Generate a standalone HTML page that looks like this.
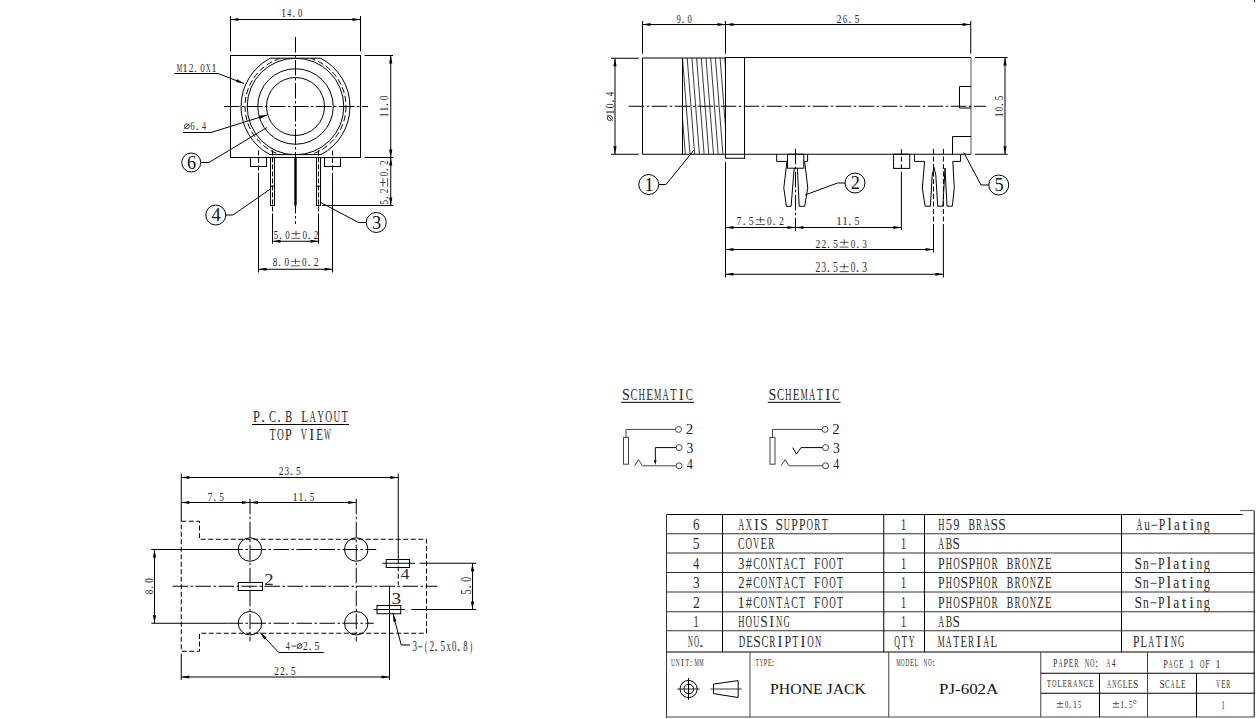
<!DOCTYPE html>
<html><head><meta charset="utf-8"><style>
html,body{margin:0;padding:0;background:#fff;}
body{width:1256px;height:719px;overflow:hidden;}
svg{display:block;}
</style></head><body>
<svg width="1256" height="719" viewBox="0 0 1256 719">
<rect width="1256" height="719" fill="#fff"/>
<line x1="230.5" y1="16" x2="230.5" y2="51.5" stroke="#000" stroke-width="1" />
<line x1="360.5" y1="16" x2="360.5" y2="51.5" stroke="#000" stroke-width="1" />
<line x1="230.5" y1="19.5" x2="360.5" y2="19.5" stroke="#000" stroke-width="1" />
<polygon points="230.5,19.5 238.5,17.9 238.5,21.1" fill="#000"/>
<polygon points="360.5,19.5 352.5,21.1 352.5,17.9" fill="#000"/>
<g transform="translate(281,17)" font-family='"Liberation Serif", serif' font-size="12.21" fill="#2a2a2a"><text transform="translate(2.75,0) scale(0.84,1)" x="-3.22">1</text><text transform="translate(8.25,0) scale(0.64,1)" x="-3.08">4</text><text transform="translate(12.65,0) scale(1,1)" x="-1.53">.</text><text transform="translate(19.25,0) scale(0.7,1)" x="-3.05">0</text></g>
<rect x="230.5" y="55.5" width="130" height="102" fill="none" stroke="#000" stroke-width="1" />
<clipPath id="cp1"><rect x="200" y="58.2" width="200" height="96.4"/></clipPath>
<path d="M 270.3 58.2 L 320.7 58.2 A 54.5 54.5 0 0 1 321.1 154.6 L 269.9 154.6 A 54.5 54.5 0 0 1 270.3 58.2 Z" fill="none" stroke="#000" stroke-width="1"/>
<circle cx="295.5" cy="106.5" r="50.5" fill="none" stroke="#000" stroke-width="1" stroke-dasharray="6 3" clip-path="url(#cp1)"/>
<circle cx="295.5" cy="106.5" r="48.3" fill="none" stroke="#000" stroke-width="1" clip-path="url(#cp1)"/>
<circle cx="295.5" cy="106.5" r="37.75" fill="none" stroke="#000" stroke-width="1" />
<circle cx="295.5" cy="106.5" r="29" fill="none" stroke="#000" stroke-width="1" />
<line x1="295.5" y1="37" x2="295.5" y2="224" stroke="#000" stroke-width="1" stroke-dasharray="15.5 2.5 2.5 2.5" stroke-dashoffset="0"/>
<line x1="224" y1="106.5" x2="368" y2="106.5" stroke="#000" stroke-width="1" stroke-dasharray="15.5 2.5 2.5 2.5" stroke-dashoffset="0"/>
<g transform="translate(176.5,71.75)" font-family='"Liberation Serif", serif' font-size="12.21" fill="#2a2a2a"><text transform="translate(2.89,0) scale(0.49,1)" x="-5.43">M</text><text transform="translate(8.68,0) scale(0.89,1)" x="-3.22">1</text><text transform="translate(14.46,0) scale(0.78,1)" x="-2.98">2</text><text transform="translate(19.09,0) scale(1,1)" x="-1.53">.</text><text transform="translate(26.04,0) scale(0.74,1)" x="-3.05">0</text><text transform="translate(31.82,0) scale(0.53,1)" x="-4.43">X</text><text transform="translate(37.61,0) scale(0.89,1)" x="-3.22">1</text></g>
<line x1="174.5" y1="73.5" x2="218" y2="73.5" stroke="#000" stroke-width="1" />
<line x1="218" y1="73.5" x2="244" y2="83.5" stroke="#000" stroke-width="1" />
<polygon points="244,83.5 235.96,82.12 237.11,79.13" fill="#000"/>
<g transform="translate(184,130)" font-family='"Liberation Serif", serif' font-size="12.6" fill="#2a2a2a"><circle cx="2.88" cy="-3.71" r="2.42" stroke="#2a2a2a" stroke-width="0.9" fill="none"/><path d="M0.22 -1.06L5.53 -6.37" stroke="#2a2a2a" stroke-width="0.9"/><text transform="translate(8.62,0) scale(0.71,1)" x="-3.23">6</text><text transform="translate(13.22,0) scale(1,1)" x="-1.57">.</text><text transform="translate(20.12,0) scale(0.65,1)" x="-3.17">4</text></g>
<line x1="183" y1="132.5" x2="211" y2="132.5" stroke="#000" stroke-width="1" />
<line x1="211" y1="132.5" x2="267" y2="115" stroke="#000" stroke-width="1" />
<polygon points="267,115 259.84,118.91 258.89,115.86" fill="#000"/>
<circle cx="191.25" cy="162.5" r="9.5" fill="none" stroke="#000" stroke-width="1" />
<text x="191.55" y="168.5" font-family='"Liberation Serif", serif' font-size="18.32" fill="#111" text-anchor="middle">6</text>
<line x1="200.75" y1="162.5" x2="209" y2="162.5" stroke="#000" stroke-width="1" />
<line x1="209" y1="162.5" x2="267" y2="127.5" stroke="#000" stroke-width="1" />
<line x1="364.5" y1="55.5" x2="393" y2="55.5" stroke="#000" stroke-width="1" />
<line x1="364.5" y1="157.5" x2="393" y2="157.5" stroke="#000" stroke-width="1" />
<line x1="390.75" y1="55.5" x2="390.75" y2="157.5" stroke="#000" stroke-width="1" />
<polygon points="390.75,55.5 392.35,63.5 389.15,63.5" fill="#000"/>
<polygon points="390.75,157.5 389.15,149.5 392.35,149.5" fill="#000"/>
<g transform="translate(388,117.5) rotate(-90)" font-family='"Liberation Serif", serif' font-size="12.98" fill="#2a2a2a"><text transform="translate(2.81,0) scale(0.81,1)" x="-3.42">1</text><text transform="translate(8.44,0) scale(0.81,1)" x="-3.42">1</text><text transform="translate(12.94,0) scale(1,1)" x="-1.62">.</text><text transform="translate(19.69,0) scale(0.67,1)" x="-3.24">0</text></g>
<line x1="322" y1="205.5" x2="393" y2="205.5" stroke="#000" stroke-width="1" />
<line x1="390.75" y1="157.5" x2="390.75" y2="205.5" stroke="#000" stroke-width="1" />
<polygon points="390.75,157.5 392.35,165.5 389.15,165.5" fill="#000"/>
<polygon points="390.75,205.5 389.15,197.5 392.35,197.5" fill="#000"/>
<g transform="translate(388,205) rotate(-90)" font-family='"Liberation Serif", serif' font-size="12.98" fill="#2a2a2a"><text transform="translate(2.81,0) scale(0.71,1)" x="-3.37">5</text><text transform="translate(7.31,0) scale(1,1)" x="-1.62">.</text><text transform="translate(14.06,0) scale(0.71,1)" x="-3.17">2</text><path d="M18.23 -5.05H26.77M22.5 -8V-2.2M18.23 -0.4H26.77" stroke="#2a2a2a" stroke-width="0.8" fill="none"/><text transform="translate(30.94,0) scale(0.67,1)" x="-3.24">0</text><text transform="translate(35.44,0) scale(1,1)" x="-1.62">.</text><text transform="translate(42.19,0) scale(0.71,1)" x="-3.17">2</text></g>
<rect x="250.5" y="157.5" width="16" height="9" fill="none" stroke="#000" stroke-width="1" />
<rect x="324.5" y="157.5" width="16" height="9" fill="none" stroke="#000" stroke-width="1" />
<line x1="258.5" y1="150.4" x2="258.5" y2="177.5" stroke="#000" stroke-width="1" stroke-dasharray="5 2.5" stroke-dashoffset="0"/>
<line x1="258.5" y1="177.5" x2="258.5" y2="272.5" stroke="#000" stroke-width="1" />
<line x1="332.5" y1="150.4" x2="332.5" y2="177.5" stroke="#000" stroke-width="1" stroke-dasharray="5 2.5" stroke-dashoffset="0"/>
<line x1="332.5" y1="177.5" x2="332.5" y2="272.5" stroke="#000" stroke-width="1" />
<rect x="270.5" y="157.5" width="4" height="48" fill="none" stroke="#000" stroke-width="1" />
<line x1="270.5" y1="186.25" x2="274.5" y2="186.25" stroke="#000" stroke-width="1" />
<rect x="316.5" y="157.5" width="4" height="48" fill="none" stroke="#000" stroke-width="1" />
<line x1="316.5" y1="186.25" x2="320.5" y2="186.25" stroke="#000" stroke-width="1" />
<line x1="272.5" y1="150.4" x2="272.5" y2="222" stroke="#000" stroke-width="1" stroke-dasharray="5 2" stroke-dashoffset="0"/>
<line x1="318.5" y1="150.4" x2="318.5" y2="222" stroke="#000" stroke-width="1" stroke-dasharray="5 2" stroke-dashoffset="0"/>
<rect x="294.3" y="157.5" width="2.4" height="48" fill="#000"/>
<line x1="272.5" y1="217.5" x2="272.5" y2="243.75" stroke="#000" stroke-width="1" />
<line x1="318.5" y1="217.5" x2="318.5" y2="243.75" stroke="#000" stroke-width="1" />
<line x1="272.5" y1="241.25" x2="318.5" y2="241.25" stroke="#000" stroke-width="1" />
<polygon points="272.5,241.25 280.5,239.65 280.5,242.85" fill="#000"/>
<polygon points="318.5,241.25 310.5,242.85 310.5,239.65" fill="#000"/>
<g transform="translate(273,238.75)" font-family='"Liberation Serif", serif' font-size="13.36" fill="#2a2a2a"><text transform="translate(2.88,0) scale(0.71,1)" x="-3.47">5</text><text transform="translate(7.47,0) scale(1,1)" x="-1.67">.</text><text transform="translate(14.38,0) scale(0.67,1)" x="-3.34">0</text><path d="M18.63 -5.18H27.37M23 -8.25V-2.2M18.63 -0.4H27.37" stroke="#2a2a2a" stroke-width="0.8" fill="none"/><text transform="translate(31.62,0) scale(0.67,1)" x="-3.34">0</text><text transform="translate(36.23,0) scale(1,1)" x="-1.67">.</text><text transform="translate(43.12,0) scale(0.71,1)" x="-3.26">2</text></g>
<line x1="258.5" y1="269.25" x2="332.5" y2="269.25" stroke="#000" stroke-width="1" />
<polygon points="258.5,269.25 266.5,267.65 266.5,270.85" fill="#000"/>
<polygon points="332.5,269.25 324.5,270.85 324.5,267.65" fill="#000"/>
<g transform="translate(272,266.25)" font-family='"Liberation Serif", serif' font-size="12.6" fill="#2a2a2a"><text transform="translate(2.94,0) scale(0.73,1)" x="-3.15">8</text><text transform="translate(7.64,0) scale(1,1)" x="-1.57">.</text><text transform="translate(14.69,0) scale(0.73,1)" x="-3.15">0</text><path d="M19.04 -4.93H27.96M23.5 -7.75V-2.2M19.04 -0.4H27.96" stroke="#2a2a2a" stroke-width="0.8" fill="none"/><text transform="translate(32.31,0) scale(0.73,1)" x="-3.15">0</text><text transform="translate(37.01,0) scale(1,1)" x="-1.57">.</text><text transform="translate(44.06,0) scale(0.77,1)" x="-3.08">2</text></g>
<circle cx="215.75" cy="215" r="10" fill="none" stroke="#000" stroke-width="1" />
<text x="216.05" y="221" font-family='"Liberation Serif", serif' font-size="18.32" fill="#111" text-anchor="middle">4</text>
<line x1="225.75" y1="215" x2="233" y2="215" stroke="#000" stroke-width="1" />
<line x1="233" y1="215" x2="270.75" y2="188.75" stroke="#000" stroke-width="1" />
<circle cx="376.25" cy="222.5" r="10" fill="none" stroke="#000" stroke-width="1" />
<text x="376.55" y="228.5" font-family='"Liberation Serif", serif' font-size="18.32" fill="#111" text-anchor="middle">3</text>
<line x1="366.25" y1="222.5" x2="358.5" y2="222.5" stroke="#000" stroke-width="1" />
<line x1="358.5" y1="222.5" x2="320.75" y2="202.5" stroke="#000" stroke-width="1" />
<line x1="642.5" y1="21" x2="642.5" y2="53.75" stroke="#000" stroke-width="1" />
<line x1="725.5" y1="21" x2="725.5" y2="53.75" stroke="#000" stroke-width="1" />
<line x1="970.75" y1="21" x2="970.75" y2="53.75" stroke="#000" stroke-width="1" />
<line x1="642.5" y1="24.5" x2="725.5" y2="24.5" stroke="#000" stroke-width="1" />
<polygon points="642.5,24.5 650.5,22.9 650.5,26.1" fill="#000"/>
<polygon points="725.5,24.5 717.5,26.1 717.5,22.9" fill="#000"/>
<line x1="725.5" y1="24.5" x2="970.75" y2="24.5" stroke="#000" stroke-width="1" />
<polygon points="725.5,24.5 733.5,22.9 733.5,26.1" fill="#000"/>
<polygon points="970.75,24.5 962.75,26.1 962.75,22.9" fill="#000"/>
<g transform="translate(675.75,22.5)" font-family='"Liberation Serif", serif' font-size="12.6" fill="#2a2a2a"><text transform="translate(2.79,0) scale(0.69,1)" x="-3.09">9</text><text transform="translate(7.26,0) scale(1,1)" x="-1.57">.</text><text transform="translate(13.96,0) scale(0.69,1)" x="-3.15">0</text></g>
<g transform="translate(836,22.5)" font-family='"Liberation Serif", serif' font-size="12.98" fill="#2a2a2a"><text transform="translate(3,0) scale(0.76,1)" x="-3.17">2</text><text transform="translate(9,0) scale(0.71,1)" x="-3.33">6</text><text transform="translate(13.8,0) scale(1,1)" x="-1.62">.</text><text transform="translate(21,0) scale(0.76,1)" x="-3.37">5</text></g>
<line x1="642.5" y1="58" x2="642.5" y2="154.25" stroke="#000" stroke-width="1" />
<line x1="642.5" y1="58" x2="725.5" y2="58" stroke="#000" stroke-width="1" />
<line x1="725.5" y1="57.5" x2="971" y2="57.5" stroke="#000" stroke-width="1" />
<line x1="642.5" y1="154.25" x2="971" y2="154.25" stroke="#000" stroke-width="1" />
<line x1="682.5" y1="58" x2="682.5" y2="154.25" stroke="#000" stroke-width="1" />
<clipPath id="cpth"><rect x="682.5" y="58" width="43" height="96.25"/></clipPath><g clip-path="url(#cpth)">
<line x1="677.8" y1="58" x2="685.3" y2="154.25" stroke="#222" stroke-width="0.9" />
<line x1="682.5" y1="58" x2="690" y2="154.25" stroke="#222" stroke-width="0.9" />
<line x1="687.2" y1="58" x2="694.7" y2="154.25" stroke="#222" stroke-width="0.9" />
<line x1="691.9" y1="58" x2="699.4" y2="154.25" stroke="#222" stroke-width="0.9" />
<line x1="696.6" y1="58" x2="704.1" y2="154.25" stroke="#222" stroke-width="0.9" />
<line x1="701.3" y1="58" x2="708.8" y2="154.25" stroke="#222" stroke-width="0.9" />
<line x1="706" y1="58" x2="713.5" y2="154.25" stroke="#222" stroke-width="0.9" />
<line x1="710.7" y1="58" x2="718.2" y2="154.25" stroke="#222" stroke-width="0.9" />
<line x1="715.4" y1="58" x2="722.9" y2="154.25" stroke="#222" stroke-width="0.9" />
<line x1="720.1" y1="58" x2="727.6" y2="154.25" stroke="#222" stroke-width="0.9" />
<line x1="724.8" y1="58" x2="732.3" y2="154.25" stroke="#222" stroke-width="0.9" />
</g>
<rect x="725.5" y="57.5" width="19" height="100.75" fill="none" stroke="#000" stroke-width="1" />
<line x1="971" y1="57.5" x2="971" y2="154.25" stroke="#555" stroke-width="1" />
<polyline points="971,86.5 959.5,86.5 959.5,108 971,108" fill="none" stroke="#000" stroke-width="1" />
<polyline points="971,136.5 952.5,136.5 952.5,154.25" fill="none" stroke="#000" stroke-width="1" />
<line x1="628.75" y1="106.25" x2="986.25" y2="106.25" stroke="#000" stroke-width="1" stroke-dasharray="15.5 2.5 2.5 2.5" stroke-dashoffset="0"/>
<line x1="611" y1="58.25" x2="638.75" y2="58.25" stroke="#000" stroke-width="1" />
<line x1="611" y1="154.25" x2="638.75" y2="154.25" stroke="#000" stroke-width="1" />
<line x1="615" y1="58.25" x2="615" y2="154.25" stroke="#000" stroke-width="1" />
<polygon points="615,58.25 616.6,66.25 613.4,66.25" fill="#000"/>
<polygon points="615,154.25 613.4,146.25 616.6,146.25" fill="#000"/>
<g transform="translate(613.75,121) rotate(-90)" font-family='"Liberation Serif", serif' font-size="13.36" fill="#2a2a2a"><circle cx="3" cy="-3.94" r="2.52" stroke="#2a2a2a" stroke-width="0.9" fill="none"/><path d="M0.23 -1.17L5.77 -6.71" stroke="#2a2a2a" stroke-width="0.9"/><text transform="translate(9,0) scale(0.84,1)" x="-3.53">1</text><text transform="translate(15,0) scale(0.7,1)" x="-3.34">0</text><text transform="translate(19.8,0) scale(1,1)" x="-1.67">.</text><text transform="translate(27,0) scale(0.64,1)" x="-3.37">4</text></g>
<line x1="975" y1="57.5" x2="1007.5" y2="57.5" stroke="#000" stroke-width="1" />
<line x1="975" y1="154.25" x2="1007.5" y2="154.25" stroke="#000" stroke-width="1" />
<line x1="1005" y1="57.5" x2="1005" y2="154.25" stroke="#000" stroke-width="1" />
<polygon points="1005,57.5 1006.6,65.5 1003.4,65.5" fill="#000"/>
<polygon points="1005,154.25 1003.4,146.25 1006.6,146.25" fill="#000"/>
<g transform="translate(1002.5,117.5) rotate(-90)" font-family='"Liberation Serif", serif' font-size="13.36" fill="#2a2a2a"><text transform="translate(2.81,0) scale(0.79,1)" x="-3.53">1</text><text transform="translate(8.44,0) scale(0.66,1)" x="-3.34">0</text><text transform="translate(12.94,0) scale(1,1)" x="-1.67">.</text><text transform="translate(19.69,0) scale(0.69,1)" x="-3.47">5</text></g>
<line x1="725.5" y1="162" x2="725.5" y2="277.5" stroke="#000" stroke-width="1" />
<polyline points="776.7,154.25 776.7,161.4 787.4,161.4" fill="none" stroke="#000" stroke-width="1" />
<polyline points="807.6,154.25 807.6,161.4 803.8,161.4" fill="none" stroke="#000" stroke-width="1" />
<rect x="787.5" y="154.25" width="16.3" height="13.95" fill="none" stroke="#000" stroke-width="1" />
<polyline points="786.9,161.9 783.8,188 786.4,206.3 791.1,206.3 794.2,168.2" fill="none" stroke="#000" stroke-width="1" />
<polyline points="797.4,168.2 799.2,206.3 804.7,206.3 807.8,188 804.7,161.9" fill="none" stroke="#000" stroke-width="1" />
<line x1="795.5" y1="148.75" x2="795.5" y2="231.25" stroke="#000" stroke-width="1" stroke-dasharray="15.5 2.5 2.5 2.5" stroke-dashoffset="0"/>
<rect x="893.6" y="154.25" width="16.1" height="14.15" fill="none" stroke="#000" stroke-width="1" />
<line x1="901.4" y1="149.2" x2="901.4" y2="175" stroke="#000" stroke-width="1" stroke-dasharray="5 2.5" stroke-dashoffset="0"/>
<line x1="901.4" y1="175" x2="901.4" y2="230" stroke="#000" stroke-width="1" />
<polyline points="914.5,154.25 914.5,161.4 924.6,161.4 922.3,188 925.1,206.2 930.4,206.2 932.2,175 934,167.3 935.8,175 937.7,206.2 942.9,206.2 945,168 947,206.2 952.3,206.2 954.3,188 952.8,161.4 960.6,161.4 960.6,154.25" fill="none" stroke="#000" stroke-width="1" />
<line x1="933.5" y1="149" x2="933.5" y2="228" stroke="#000" stroke-width="1" stroke-dasharray="5 2.5" stroke-dashoffset="0"/>
<line x1="933.5" y1="228" x2="933.5" y2="252.5" stroke="#000" stroke-width="1" />
<line x1="943.4" y1="149" x2="943.4" y2="228" stroke="#000" stroke-width="1" stroke-dasharray="5 2.5" stroke-dashoffset="0"/>
<line x1="943.4" y1="228" x2="943.4" y2="277.5" stroke="#000" stroke-width="1" />
<line x1="725.5" y1="227.5" x2="795.5" y2="227.5" stroke="#000" stroke-width="1" />
<polygon points="725.5,227.5 733.5,225.9 733.5,229.1" fill="#000"/>
<polygon points="795.5,227.5 787.5,229.1 787.5,225.9" fill="#000"/>
<line x1="795.5" y1="227.5" x2="901.4" y2="227.5" stroke="#000" stroke-width="1" />
<polygon points="795.5,227.5 803.5,225.9 803.5,229.1" fill="#000"/>
<polygon points="901.4,227.5 893.4,229.1 893.4,225.9" fill="#000"/>
<g transform="translate(736.25,225)" font-family='"Liberation Serif", serif' font-size="13.36" fill="#2a2a2a"><text transform="translate(3.02,0) scale(0.74,1)" x="-3.59">7</text><text transform="translate(7.84,0) scale(1,1)" x="-1.67">.</text><text transform="translate(15.08,0) scale(0.74,1)" x="-3.47">5</text><path d="M19.54 -5.18H28.71M24.12 -8.25V-2.2M19.54 -0.4H28.71" stroke="#2a2a2a" stroke-width="0.8" fill="none"/><text transform="translate(33.17,0) scale(0.7,1)" x="-3.34">0</text><text transform="translate(38,0) scale(1,1)" x="-1.67">.</text><text transform="translate(45.23,0) scale(0.74,1)" x="-3.26">2</text></g>
<g transform="translate(836.25,225)" font-family='"Liberation Serif", serif' font-size="13.36" fill="#2a2a2a"><text transform="translate(2.97,0) scale(0.83,1)" x="-3.53">1</text><text transform="translate(8.91,0) scale(0.83,1)" x="-3.53">1</text><text transform="translate(13.66,0) scale(1,1)" x="-1.67">.</text><text transform="translate(20.78,0) scale(0.73,1)" x="-3.47">5</text></g>
<line x1="725.5" y1="249.5" x2="933.5" y2="249.5" stroke="#000" stroke-width="1" />
<polygon points="725.5,249.5 733.5,247.9 733.5,251.1" fill="#000"/>
<polygon points="933.5,249.5 925.5,251.1 925.5,247.9" fill="#000"/>
<g transform="translate(815,247.5)" font-family='"Liberation Serif", serif' font-size="13.36" fill="#2a2a2a"><text transform="translate(2.92,0) scale(0.72,1)" x="-3.26">2</text><text transform="translate(8.75,0) scale(0.72,1)" x="-3.26">2</text><text transform="translate(13.42,0) scale(1,1)" x="-1.67">.</text><text transform="translate(20.42,0) scale(0.72,1)" x="-3.47">5</text><path d="M24.73 -5.18H33.6M29.17 -8.25V-2.2M24.73 -0.4H33.6" stroke="#2a2a2a" stroke-width="0.8" fill="none"/><text transform="translate(37.92,0) scale(0.68,1)" x="-3.34">0</text><text transform="translate(42.58,0) scale(1,1)" x="-1.67">.</text><text transform="translate(49.58,0) scale(0.7,1)" x="-3.4">3</text></g>
<line x1="725.5" y1="274.25" x2="943.4" y2="274.25" stroke="#000" stroke-width="1" />
<polygon points="725.5,274.25 733.5,272.65 733.5,275.85" fill="#000"/>
<polygon points="943.4,274.25 935.4,275.85 935.4,272.65" fill="#000"/>
<g transform="translate(815,272)" font-family='"Liberation Serif", serif' font-size="13.74" fill="#2a2a2a"><text transform="translate(2.92,0) scale(0.7,1)" x="-3.36">2</text><text transform="translate(8.75,0) scale(0.68,1)" x="-3.5">3</text><text transform="translate(13.42,0) scale(1,1)" x="-1.72">.</text><text transform="translate(20.42,0) scale(0.7,1)" x="-3.57">5</text><path d="M24.73 -5.3H33.6M29.17 -8.5V-2.2M24.73 -0.4H33.6" stroke="#2a2a2a" stroke-width="0.8" fill="none"/><text transform="translate(37.92,0) scale(0.66,1)" x="-3.44">0</text><text transform="translate(42.58,0) scale(1,1)" x="-1.72">.</text><text transform="translate(49.58,0) scale(0.68,1)" x="-3.5">3</text></g>
<circle cx="648.75" cy="184.5" r="10" fill="none" stroke="#000" stroke-width="1" />
<text x="649.05" y="190.5" font-family='"Liberation Serif", serif' font-size="18.32" fill="#111" text-anchor="middle">1</text>
<line x1="658.75" y1="184.5" x2="666" y2="184.5" stroke="#000" stroke-width="1" />
<line x1="666" y1="184.5" x2="694" y2="150" stroke="#000" stroke-width="1" />
<circle cx="855" cy="183" r="10" fill="none" stroke="#000" stroke-width="1" />
<text x="855.3" y="189" font-family='"Liberation Serif", serif' font-size="18.32" fill="#111" text-anchor="middle">2</text>
<line x1="845" y1="183" x2="837.5" y2="183" stroke="#000" stroke-width="1" />
<line x1="837.5" y1="183" x2="805" y2="195" stroke="#000" stroke-width="1" />
<circle cx="998.75" cy="185" r="10" fill="none" stroke="#000" stroke-width="1" />
<text x="999.05" y="191" font-family='"Liberation Serif", serif' font-size="18.32" fill="#111" text-anchor="middle">5</text>
<line x1="988.75" y1="185" x2="981" y2="185" stroke="#000" stroke-width="1" />
<line x1="981" y1="185" x2="963.75" y2="152.5" stroke="#000" stroke-width="1" />
<g transform="translate(252.5,422)" font-family='"Liberation Serif", serif' font-size="16.41" fill="#2a2a2a"><text transform="translate(4.01,0) scale(0.76,1)" x="-4.47">P</text><text transform="translate(10.43,0) scale(1,1)" x="-2.05">.</text><text transform="translate(20.05,0) scale(0.65,1)" x="-5.36">C</text><text transform="translate(26.47,0) scale(1,1)" x="-2.05">.</text><text transform="translate(36.09,0) scale(0.63,1)" x="-5.31">B</text><text transform="translate(52.14,0) scale(0.71,1)" x="-4.76">L</text><text transform="translate(60.16,0) scale(0.53,1)" x="-5.95">A</text><text transform="translate(68.18,0) scale(0.54,1)" x="-5.81">Y</text><text transform="translate(76.2,0) scale(0.58,1)" x="-5.93">O</text><text transform="translate(84.22,0) scale(0.55,1)" x="-5.93">U</text><text transform="translate(92.24,0) scale(0.64,1)" x="-5.02">T</text></g>
<line x1="252" y1="424.5" x2="349" y2="424.5" stroke="#000" stroke-width="1" />
<g transform="translate(268.75,440)" font-family='"Liberation Serif", serif' font-size="16.41" fill="#2a2a2a"><text transform="translate(3.91,0) scale(0.63,1)" x="-5.02">T</text><text transform="translate(11.72,0) scale(0.57,1)" x="-5.93">O</text><text transform="translate(19.53,0) scale(0.74,1)" x="-4.47">P</text><text transform="translate(35.16,0) scale(0.52,1)" x="-5.93">V</text><text transform="translate(42.97,0) scale(0.91,1)" x="-2.74">I</text><text transform="translate(50.78,0) scale(0.68,1)" x="-4.84">E</text><text transform="translate(58.59,0) scale(0.44,1)" x="-7.74">W</text></g>
<line x1="181.25" y1="473.75" x2="181.25" y2="521.25" stroke="#000" stroke-width="1" />
<line x1="398.25" y1="473.75" x2="398.25" y2="558.75" stroke="#000" stroke-width="1" />
<line x1="398.25" y1="558.75" x2="398.25" y2="585" stroke="#000" stroke-width="1" stroke-dasharray="5 2.5" stroke-dashoffset="0"/>
<line x1="181.25" y1="477.5" x2="398.25" y2="477.5" stroke="#000" stroke-width="1" />
<polygon points="181.25,477.5 189.25,475.9 189.25,479.1" fill="#000"/>
<polygon points="398.25,477.5 390.25,479.1 390.25,475.9" fill="#000"/>
<g transform="translate(278.25,475)" font-family='"Liberation Serif", serif' font-size="13.36" fill="#2a2a2a"><text transform="translate(2.88,0) scale(0.71,1)" x="-3.26">2</text><text transform="translate(8.62,0) scale(0.69,1)" x="-3.4">3</text><text transform="translate(13.22,0) scale(1,1)" x="-1.67">.</text><text transform="translate(20.12,0) scale(0.71,1)" x="-3.47">5</text></g>
<line x1="181.25" y1="502.5" x2="250" y2="502.5" stroke="#000" stroke-width="1" />
<polygon points="181.25,502.5 189.25,500.9 189.25,504.1" fill="#000"/>
<polygon points="250,502.5 242,504.1 242,500.9" fill="#000"/>
<line x1="250" y1="502.5" x2="356.25" y2="502.5" stroke="#000" stroke-width="1" />
<polygon points="250,502.5 258,500.9 258,504.1" fill="#000"/>
<polygon points="356.25,502.5 348.25,504.1 348.25,500.9" fill="#000"/>
<g transform="translate(207.5,500.5)" font-family='"Liberation Serif", serif' font-size="12.21" fill="#2a2a2a"><text transform="translate(2.83,0) scale(0.76,1)" x="-3.28">7</text><text transform="translate(7.37,0) scale(1,1)" x="-1.53">.</text><text transform="translate(14.17,0) scale(0.76,1)" x="-3.17">5</text></g>
<g transform="translate(292.5,500.5)" font-family='"Liberation Serif", serif' font-size="12.21" fill="#2a2a2a"><text transform="translate(2.81,0) scale(0.86,1)" x="-3.22">1</text><text transform="translate(8.44,0) scale(0.86,1)" x="-3.22">1</text><text transform="translate(12.94,0) scale(1,1)" x="-1.53">.</text><text transform="translate(19.69,0) scale(0.75,1)" x="-3.17">5</text></g>
<line x1="250" y1="498.75" x2="250" y2="641.25" stroke="#000" stroke-width="1" stroke-dasharray="15.5 2.5 2.5 2.5" stroke-dashoffset="0"/>
<line x1="356.25" y1="498.75" x2="356.25" y2="641.25" stroke="#000" stroke-width="1" stroke-dasharray="15.5 2.5 2.5 2.5" stroke-dashoffset="0"/>
<polyline points="181.25,521.25 199.5,521.25 199.5,539.25 426.5,539.25 426.5,633.25 199.5,633.25 199.5,651.25 181.25,651.25 181.25,521.25" fill="none" stroke="#000" stroke-width="1" stroke-dasharray="5 2.5"/>
<circle cx="250" cy="549.5" r="11.75" fill="none" stroke="#000" stroke-width="1" />
<circle cx="356.25" cy="549.5" r="11.75" fill="none" stroke="#000" stroke-width="1" />
<circle cx="250" cy="623.25" r="11.75" fill="none" stroke="#000" stroke-width="1" />
<circle cx="356.25" cy="623.25" r="11.75" fill="none" stroke="#000" stroke-width="1" />
<line x1="151.25" y1="549.5" x2="227.5" y2="549.5" stroke="#000" stroke-width="1" />
<line x1="227.5" y1="549.5" x2="376.25" y2="549.5" stroke="#000" stroke-width="1" stroke-dasharray="15.5 2.5 2.5 2.5" stroke-dashoffset="0"/>
<line x1="151.25" y1="623.25" x2="227.5" y2="623.25" stroke="#000" stroke-width="1" />
<line x1="227.5" y1="623.25" x2="373.75" y2="623.25" stroke="#000" stroke-width="1" stroke-dasharray="15.5 2.5 2.5 2.5" stroke-dashoffset="0"/>
<line x1="172.5" y1="586.25" x2="437.5" y2="586.25" stroke="#000" stroke-width="1" stroke-dasharray="15.5 2.5 2.5 2.5" stroke-dashoffset="0"/>
<line x1="154.5" y1="549.5" x2="154.5" y2="623.25" stroke="#000" stroke-width="1" />
<polygon points="154.5,549.5 156.1,557.5 152.9,557.5" fill="#000"/>
<polygon points="154.5,623.25 152.9,615.25 156.1,615.25" fill="#000"/>
<g transform="translate(152.5,595) rotate(-90)" font-family='"Liberation Serif", serif' font-size="11.45" fill="#2a2a2a"><text transform="translate(2.92,0) scale(0.79,1)" x="-2.86">8</text><text transform="translate(7.58,0) scale(1,1)" x="-1.43">.</text><text transform="translate(14.58,0) scale(0.79,1)" x="-2.86">0</text></g>
<rect x="238.25" y="582.5" width="24.25" height="8" fill="none" stroke="#000" stroke-width="1" />
<g transform="translate(265,584.5)" font-family='"Liberation Serif", serif' font-size="16.41" fill="#2a2a2a"><text transform="translate(3.75,0) scale(1.14,1)" x="-4.01">2</text></g>
<rect x="386.25" y="559.5" width="23.25" height="8" fill="none" stroke="#000" stroke-width="1" />
<g transform="translate(401,578.75)" font-family='"Liberation Serif", serif' font-size="15.27" fill="#2a2a2a"><text transform="translate(4,0) scale(1.13,1)" x="-3.85">4</text></g>
<rect x="377" y="605.5" width="23.75" height="8.25" fill="none" stroke="#000" stroke-width="1" />
<g transform="translate(392.5,603.75)" font-family='"Liberation Serif", serif' font-size="17.18" fill="#2a2a2a"><text transform="translate(4,0) scale(1.13,1)" x="-4.37">3</text></g>
<line x1="389.5" y1="586.25" x2="389.5" y2="680" stroke="#000" stroke-width="1" />
<line x1="382.5" y1="563.25" x2="415" y2="563.25" stroke="#000" stroke-width="1" />
<line x1="419.5" y1="563.25" x2="476.25" y2="563.25" stroke="#000" stroke-width="1" />
<line x1="373.75" y1="609.5" x2="405" y2="609.5" stroke="#000" stroke-width="1" />
<line x1="411.25" y1="609.5" x2="476.25" y2="609.5" stroke="#000" stroke-width="1" />
<line x1="472.5" y1="563.25" x2="472.5" y2="609.5" stroke="#000" stroke-width="1" />
<polygon points="472.5,563.25 474.1,571.25 470.9,571.25" fill="#000"/>
<polygon points="472.5,609.5 470.9,601.5 474.1,601.5" fill="#000"/>
<g transform="translate(471.25,595) rotate(-90)" font-family='"Liberation Serif", serif' font-size="15.27" fill="#2a2a2a"><text transform="translate(3.12,0) scale(0.67,1)" x="-3.96">5</text><text transform="translate(8.12,0) scale(1,1)" x="-1.91">.</text><text transform="translate(15.62,0) scale(0.64,1)" x="-3.82">0</text></g>
<line x1="181.25" y1="653.75" x2="181.25" y2="680" stroke="#000" stroke-width="1" />
<line x1="181.25" y1="677" x2="389.5" y2="677" stroke="#000" stroke-width="1" />
<polygon points="181.25,677 189.25,675.4 189.25,678.6" fill="#000"/>
<polygon points="389.5,677 381.5,678.6 381.5,675.4" fill="#000"/>
<g transform="translate(273.75,675)" font-family='"Liberation Serif", serif' font-size="13.36" fill="#2a2a2a"><text transform="translate(2.81,0) scale(0.69,1)" x="-3.26">2</text><text transform="translate(8.44,0) scale(0.69,1)" x="-3.26">2</text><text transform="translate(12.94,0) scale(1,1)" x="-1.67">.</text><text transform="translate(19.69,0) scale(0.69,1)" x="-3.47">5</text></g>
<g transform="translate(285,650)" font-family='"Liberation Serif", serif' font-size="13.36" fill="#2a2a2a"><text transform="translate(2.92,0) scale(0.62,1)" x="-3.37">4</text><path d="M6.42 -3.94H11.08" stroke="#2a2a2a" stroke-width="0.9"/><circle cx="14.58" cy="-3.94" r="2.45" stroke="#2a2a2a" stroke-width="0.9" fill="none"/><path d="M11.89 -1.24L17.28 -6.63" stroke="#2a2a2a" stroke-width="0.9"/><text transform="translate(20.42,0) scale(0.72,1)" x="-3.26">2</text><text transform="translate(25.08,0) scale(1,1)" x="-1.67">.</text><text transform="translate(32.08,0) scale(0.72,1)" x="-3.47">5</text></g>
<line x1="278.75" y1="652.5" x2="323.75" y2="652.5" stroke="#000" stroke-width="1" />
<line x1="278.75" y1="652.5" x2="260" y2="632.5" stroke="#000" stroke-width="1" />
<polygon points="260,632.5 266.64,637.24 264.3,639.43" fill="#000"/>
<g transform="translate(412,651.25)" font-family='"Liberation Serif", serif' font-size="15.27" fill="#2a2a2a"><text transform="translate(2.81,0) scale(0.59,1)" x="-3.88">3</text><path d="M6.17 -4.5H10.67" stroke="#2a2a2a" stroke-width="0.9"/><text transform="translate(14.03,0) scale(0.5,1)" x="-2.63">(</text><text transform="translate(19.65,0) scale(0.61,1)" x="-3.73">2</text><text transform="translate(24.14,0) scale(1,1)" x="-1.91">.</text><text transform="translate(30.88,0) scale(0.6,1)" x="-3.96">5</text><text transform="translate(36.49,0) scale(0.54,1)" x="-3.79">x</text><text transform="translate(42.1,0) scale(0.57,1)" x="-3.82">0</text><text transform="translate(46.59,0) scale(1,1)" x="-1.91">.</text><text transform="translate(53.33,0) scale(0.57,1)" x="-3.82">8</text><text transform="translate(58.94,0) scale(0.5,1)" x="-2.45">)</text></g>
<line x1="410" y1="645" x2="401.25" y2="645" stroke="#000" stroke-width="1" />
<line x1="401.25" y1="645" x2="393" y2="613.75" stroke="#000" stroke-width="1" />
<polygon points="393,613.75 396.59,621.08 393.5,621.89" fill="#000"/>
<g transform="translate(622,400.3)" font-family='"Liberation Serif", serif' font-size="17.4" fill="#2a2a2a"><text transform="translate(3.96,0) scale(0.81,1)" x="-4.88">S</text><text transform="translate(11.87,0) scale(0.61,1)" x="-5.68">C</text><text transform="translate(19.78,0) scale(0.52,1)" x="-6.28">H</text><text transform="translate(27.69,0) scale(0.65,1)" x="-5.13">E</text><text transform="translate(35.6,0) scale(0.47,1)" x="-7.73">M</text><text transform="translate(43.51,0) scale(0.49,1)" x="-6.31">A</text><text transform="translate(51.42,0) scale(0.6,1)" x="-5.33">T</text><text transform="translate(59.33,0) scale(0.87,1)" x="-2.91">I</text><text transform="translate(67.24,0) scale(0.61,1)" x="-5.68">C</text></g>
<line x1="621.2" y1="402.3" x2="694" y2="402.3" stroke="#000" stroke-width="1" />
<rect x="623.5" y="437.4" width="5" height="26.8" fill="none" stroke="#444" stroke-width="1" />
<polyline points="626,437.4 626,429.4 675.5,429.4" fill="none" stroke="#444" stroke-width="1" />
<circle cx="678.5" cy="429.4" r="3" fill="none" stroke="#444" stroke-width="1" />
<g transform="translate(686.4,433.6)" font-family='"Liberation Serif", serif' font-size="13.89" fill="#222"><text transform="translate(3,0) scale(1.08,1)" x="-3.4">2</text></g>
<circle cx="679.1" cy="447.6" r="3" fill="none" stroke="#444" stroke-width="1" />
<circle cx="679.1" cy="465.8" r="3" fill="none" stroke="#444" stroke-width="1" />
<g transform="translate(687.1,452.6)" font-family='"Liberation Serif", serif' font-size="13.89" fill="#222"><text transform="translate(2.8,0) scale(0.98,1)" x="-3.53">3</text></g>
<g transform="translate(687.1,469.2)" font-family='"Liberation Serif", serif' font-size="13.74" fill="#222"><text transform="translate(2.8,0) scale(0.88,1)" x="-3.46">4</text></g>
<polyline points="634.5,465.8 638.6,459.7 642.4,465.8 676.1,465.8" fill="none" stroke="#444" stroke-width="1" />
<polyline points="655.3,462 655.3,447.6 676.1,447.6" fill="none" stroke="#000" stroke-width="1" />
<polygon points="655.3,465 654,460 656.6,460" fill="#000"/>
<g transform="translate(768.5,400.3)" font-family='"Liberation Serif", serif' font-size="17.4" fill="#2a2a2a"><text transform="translate(3.96,0) scale(0.81,1)" x="-4.88">S</text><text transform="translate(11.87,0) scale(0.61,1)" x="-5.68">C</text><text transform="translate(19.78,0) scale(0.52,1)" x="-6.28">H</text><text transform="translate(27.69,0) scale(0.65,1)" x="-5.13">E</text><text transform="translate(35.6,0) scale(0.47,1)" x="-7.73">M</text><text transform="translate(43.51,0) scale(0.49,1)" x="-6.31">A</text><text transform="translate(51.42,0) scale(0.6,1)" x="-5.33">T</text><text transform="translate(59.33,0) scale(0.87,1)" x="-2.91">I</text><text transform="translate(67.24,0) scale(0.61,1)" x="-5.68">C</text></g>
<line x1="767.7" y1="402.3" x2="840.5" y2="402.3" stroke="#000" stroke-width="1" />
<rect x="770" y="437.4" width="5" height="26.8" fill="none" stroke="#444" stroke-width="1" />
<polyline points="772.5,437.4 772.5,429.4 822,429.4" fill="none" stroke="#444" stroke-width="1" />
<circle cx="825" cy="429.4" r="3" fill="none" stroke="#444" stroke-width="1" />
<g transform="translate(832.9,433.6)" font-family='"Liberation Serif", serif' font-size="13.89" fill="#222"><text transform="translate(3,0) scale(1.08,1)" x="-3.4">2</text></g>
<circle cx="825.6" cy="447.6" r="3" fill="none" stroke="#444" stroke-width="1" />
<circle cx="825.6" cy="465.8" r="3" fill="none" stroke="#444" stroke-width="1" />
<g transform="translate(833.6,452.6)" font-family='"Liberation Serif", serif' font-size="13.89" fill="#222"><text transform="translate(2.8,0) scale(0.98,1)" x="-3.53">3</text></g>
<g transform="translate(833.6,469.2)" font-family='"Liberation Serif", serif' font-size="13.74" fill="#222"><text transform="translate(2.8,0) scale(0.88,1)" x="-3.46">4</text></g>
<polyline points="781,465.8 785.1,459.7 788.9,465.8 822.6,465.8" fill="none" stroke="#444" stroke-width="1" />
<polyline points="792.7,447.6 796.5,454.1 801,447.6 822.6,447.6" fill="none" stroke="#000" stroke-width="1" />
<line x1="666.5" y1="514.5" x2="1242.7" y2="514.5" stroke="#000" stroke-width="1.2" />
<line x1="1240.2" y1="510.6" x2="1253.8" y2="510.6" stroke="#555" stroke-width="1" />
<line x1="1254.2" y1="510.6" x2="1254.2" y2="717" stroke="#000" stroke-width="1" />
<line x1="666.5" y1="514.5" x2="666.5" y2="718" stroke="#333" stroke-width="1" />
<line x1="666.5" y1="533.75" x2="1254.2" y2="533.75" stroke="#333" stroke-width="1" />
<line x1="666.5" y1="553" x2="1254.2" y2="553" stroke="#333" stroke-width="1" />
<line x1="666.5" y1="572.5" x2="1254.2" y2="572.5" stroke="#333" stroke-width="1" />
<line x1="666.5" y1="592" x2="1254.2" y2="592" stroke="#333" stroke-width="1" />
<line x1="666.5" y1="611.75" x2="1254.2" y2="611.75" stroke="#333" stroke-width="1" />
<line x1="666.5" y1="630.75" x2="1254.2" y2="630.75" stroke="#333" stroke-width="1" />
<line x1="666.5" y1="652" x2="1254.2" y2="652" stroke="#000" stroke-width="1.2" />
<line x1="1040.75" y1="673.25" x2="1254.2" y2="673.25" stroke="#000" stroke-width="1" />
<line x1="1040.75" y1="693.25" x2="1254.2" y2="693.25" stroke="#000" stroke-width="1" />
<line x1="666.5" y1="717" x2="1254.2" y2="717" stroke="#444" stroke-width="1.2" />
<line x1="722.5" y1="514.5" x2="722.5" y2="652" stroke="#000" stroke-width="1" />
<line x1="883.75" y1="514.5" x2="883.75" y2="652" stroke="#000" stroke-width="1" />
<line x1="924.5" y1="514.5" x2="924.5" y2="652" stroke="#000" stroke-width="1" />
<line x1="1121.5" y1="514.5" x2="1121.5" y2="652" stroke="#000" stroke-width="1" />
<line x1="750" y1="652" x2="750" y2="717" stroke="#444" stroke-width="1" />
<line x1="888.75" y1="652" x2="888.75" y2="717" stroke="#444" stroke-width="1" />
<line x1="1040.75" y1="652" x2="1040.75" y2="717" stroke="#444" stroke-width="1" />
<line x1="1147.5" y1="652" x2="1147.5" y2="717" stroke="#444" stroke-width="1" />
<line x1="1099.5" y1="673.25" x2="1099.5" y2="717" stroke="#000" stroke-width="1" />
<line x1="1196.5" y1="673.25" x2="1196.5" y2="717" stroke="#000" stroke-width="1" />
<g transform="translate(693.5,530)" font-family='"Liberation Serif", serif' font-size="16.03" fill="#2a2a2a"><text transform="translate(2.75,0) scale(0.8,1)" x="-4.11">6</text></g>
<g transform="translate(737.5,530)" font-family='"Liberation Serif", serif' font-size="16.03" fill="#2a2a2a"><text transform="translate(3.8,0) scale(0.51,1)" x="-5.81">A</text><text transform="translate(11.41,0) scale(0.53,1)" x="-5.82">X</text><text transform="translate(19.01,0) scale(0.91,1)" x="-2.68">I</text><text transform="translate(26.61,0) scale(0.84,1)" x="-4.5">S</text><text transform="translate(41.82,0) scale(0.84,1)" x="-4.5">S</text><text transform="translate(49.43,0) scale(0.53,1)" x="-5.79">U</text><text transform="translate(57.03,0) scale(0.74,1)" x="-4.37">P</text><text transform="translate(64.64,0) scale(0.74,1)" x="-4.37">P</text><text transform="translate(72.24,0) scale(0.56,1)" x="-5.79">O</text><text transform="translate(79.84,0) scale(0.57,1)" x="-5.57">R</text><text transform="translate(87.45,0) scale(0.63,1)" x="-4.91">T</text></g>
<g transform="translate(901,530)" font-family='"Liberation Serif", serif' font-size="16.03" fill="#2a2a2a"><text transform="translate(2.75,0) scale(0.64,1)" x="-4.23">1</text></g>
<g transform="translate(937.5,530)" font-family='"Liberation Serif", serif' font-size="16.03" fill="#2a2a2a"><text transform="translate(3.79,0) scale(0.54,1)" x="-5.78">H</text><text transform="translate(11.38,0) scale(0.78,1)" x="-4.16">5</text><text transform="translate(18.96,0) scale(0.73,1)" x="-3.94">9</text><text transform="translate(34.12,0) scale(0.61,1)" x="-5.19">B</text><text transform="translate(41.71,0) scale(0.56,1)" x="-5.57">R</text><text transform="translate(49.29,0) scale(0.51,1)" x="-5.81">A</text><text transform="translate(56.88,0) scale(0.84,1)" x="-4.5">S</text><text transform="translate(64.46,0) scale(0.84,1)" x="-4.5">S</text></g>
<g transform="translate(1135.75,530)" font-family='"Liberation Serif", serif' font-size="16.03" fill="#2a2a2a"><text transform="translate(3.75,0) scale(0.5,1)" x="-5.81">A</text><text transform="translate(11.25,0) scale(0.7,1)" x="-3.98">u</text><path d="M15.75 -4.73H21.75" stroke="#2a2a2a" stroke-width="0.9"/><text transform="translate(26.25,0) scale(0.73,1)" x="-4.37">P</text><text transform="translate(33.75,0) scale(1.05,1)" x="-2.23">l</text><text transform="translate(41.25,0) scale(0.83,1)" x="-3.73">a</text><text transform="translate(48.75,0) scale(1.05,1)" x="-2.26">t</text><text transform="translate(56.25,0) scale(1.05,1)" x="-2.24">i</text><text transform="translate(63.75,0) scale(0.71,1)" x="-4.07">n</text><text transform="translate(71.25,0) scale(0.75,1)" x="-4.2">g</text></g>
<g transform="translate(693.5,549.25)" font-family='"Liberation Serif", serif' font-size="16.03" fill="#2a2a2a"><text transform="translate(2.75,0) scale(0.85,1)" x="-4.16">5</text></g>
<g transform="translate(737.5,549.25)" font-family='"Liberation Serif", serif' font-size="16.03" fill="#2a2a2a"><text transform="translate(3.75,0) scale(0.62,1)" x="-5.23">C</text><text transform="translate(11.25,0) scale(0.56,1)" x="-5.79">O</text><text transform="translate(18.75,0) scale(0.51,1)" x="-5.79">V</text><text transform="translate(26.25,0) scale(0.67,1)" x="-4.73">E</text><text transform="translate(33.75,0) scale(0.56,1)" x="-5.57">R</text></g>
<g transform="translate(901,549.25)" font-family='"Liberation Serif", serif' font-size="16.03" fill="#2a2a2a"><text transform="translate(2.75,0) scale(0.64,1)" x="-4.23">1</text></g>
<g transform="translate(937.5,549.25)" font-family='"Liberation Serif", serif' font-size="16.03" fill="#2a2a2a"><text transform="translate(3.75,0) scale(0.5,1)" x="-5.81">A</text><text transform="translate(11.25,0) scale(0.6,1)" x="-5.19">B</text><text transform="translate(18.75,0) scale(0.83,1)" x="-4.5">S</text></g>
<g transform="translate(693.5,568.75)" font-family='"Liberation Serif", serif' font-size="16.41" fill="#2a2a2a"><text transform="translate(2.75,0) scale(0.72,1)" x="-4.14">4</text></g>
<g transform="translate(737.5,568.75)" font-family='"Liberation Serif", serif' font-size="16.41" fill="#2a2a2a"><text transform="translate(3.79,0) scale(0.74,1)" x="-4.18">3</text><text transform="translate(11.38,0) scale(0.76,1)" x="-4.1">#</text><text transform="translate(18.97,0) scale(0.62,1)" x="-5.36">C</text><text transform="translate(26.56,0) scale(0.55,1)" x="-5.93">O</text><text transform="translate(34.15,0) scale(0.52,1)" x="-5.97">N</text><text transform="translate(41.74,0) scale(0.61,1)" x="-5.02">T</text><text transform="translate(49.33,0) scale(0.5,1)" x="-5.95">A</text><text transform="translate(56.92,0) scale(0.62,1)" x="-5.36">C</text><text transform="translate(64.51,0) scale(0.61,1)" x="-5.02">T</text><text transform="translate(79.69,0) scale(0.72,1)" x="-4.5">F</text><text transform="translate(87.28,0) scale(0.55,1)" x="-5.93">O</text><text transform="translate(94.87,0) scale(0.55,1)" x="-5.93">O</text><text transform="translate(102.46,0) scale(0.61,1)" x="-5.02">T</text></g>
<g transform="translate(901,568.75)" font-family='"Liberation Serif", serif' font-size="16.41" fill="#2a2a2a"><text transform="translate(2.75,0) scale(0.63,1)" x="-4.33">1</text></g>
<g transform="translate(937.5,568.75)" font-family='"Liberation Serif", serif' font-size="16.41" fill="#2a2a2a"><text transform="translate(3.82,0) scale(0.73,1)" x="-4.47">P</text><text transform="translate(11.45,0) scale(0.53,1)" x="-5.92">H</text><text transform="translate(19.08,0) scale(0.55,1)" x="-5.93">O</text><text transform="translate(26.72,0) scale(0.83,1)" x="-4.6">S</text><text transform="translate(34.35,0) scale(0.73,1)" x="-4.47">P</text><text transform="translate(41.98,0) scale(0.53,1)" x="-5.92">H</text><text transform="translate(49.62,0) scale(0.55,1)" x="-5.93">O</text><text transform="translate(57.25,0) scale(0.56,1)" x="-5.7">R</text><text transform="translate(72.52,0) scale(0.6,1)" x="-5.31">B</text><text transform="translate(80.15,0) scale(0.56,1)" x="-5.7">R</text><text transform="translate(87.78,0) scale(0.55,1)" x="-5.93">O</text><text transform="translate(95.42,0) scale(0.53,1)" x="-5.97">N</text><text transform="translate(103.05,0) scale(0.7,1)" x="-4.96">Z</text><text transform="translate(110.68,0) scale(0.66,1)" x="-4.84">E</text></g>
<g transform="translate(1134.5,568.75)" font-family='"Liberation Serif", serif' font-size="16.41" fill="#2a2a2a"><text transform="translate(3.81,0) scale(0.83,1)" x="-4.6">S</text><text transform="translate(11.44,0) scale(0.7,1)" x="-4.17">n</text><path d="M16.01 -4.84H22.11" stroke="#2a2a2a" stroke-width="0.9"/><text transform="translate(26.69,0) scale(0.72,1)" x="-4.47">P</text><text transform="translate(34.31,0) scale(1.05,1)" x="-2.28">l</text><text transform="translate(41.94,0) scale(0.82,1)" x="-3.82">a</text><text transform="translate(49.56,0) scale(1.05,1)" x="-2.31">t</text><text transform="translate(57.19,0) scale(1.05,1)" x="-2.3">i</text><text transform="translate(64.81,0) scale(0.7,1)" x="-4.17">n</text><text transform="translate(72.44,0) scale(0.74,1)" x="-4.3">g</text></g>
<g transform="translate(693.5,588)" font-family='"Liberation Serif", serif' font-size="16.03" fill="#2a2a2a"><text transform="translate(2.75,0) scale(0.83,1)" x="-4.08">3</text></g>
<g transform="translate(737.5,588)" font-family='"Liberation Serif", serif' font-size="16.03" fill="#2a2a2a"><text transform="translate(3.79,0) scale(0.78,1)" x="-3.92">2</text><text transform="translate(11.38,0) scale(0.78,1)" x="-4.01">#</text><text transform="translate(18.97,0) scale(0.63,1)" x="-5.23">C</text><text transform="translate(26.56,0) scale(0.56,1)" x="-5.79">O</text><text transform="translate(34.15,0) scale(0.54,1)" x="-5.84">N</text><text transform="translate(41.74,0) scale(0.62,1)" x="-4.91">T</text><text transform="translate(49.33,0) scale(0.51,1)" x="-5.81">A</text><text transform="translate(56.92,0) scale(0.63,1)" x="-5.23">C</text><text transform="translate(64.51,0) scale(0.62,1)" x="-4.91">T</text><text transform="translate(79.69,0) scale(0.73,1)" x="-4.4">F</text><text transform="translate(87.28,0) scale(0.56,1)" x="-5.79">O</text><text transform="translate(94.87,0) scale(0.56,1)" x="-5.79">O</text><text transform="translate(102.46,0) scale(0.62,1)" x="-4.91">T</text></g>
<g transform="translate(901,588)" font-family='"Liberation Serif", serif' font-size="16.03" fill="#2a2a2a"><text transform="translate(2.75,0) scale(0.64,1)" x="-4.23">1</text></g>
<g transform="translate(937.5,588)" font-family='"Liberation Serif", serif' font-size="16.03" fill="#2a2a2a"><text transform="translate(3.82,0) scale(0.74,1)" x="-4.37">P</text><text transform="translate(11.45,0) scale(0.54,1)" x="-5.78">H</text><text transform="translate(19.08,0) scale(0.57,1)" x="-5.79">O</text><text transform="translate(26.72,0) scale(0.85,1)" x="-4.5">S</text><text transform="translate(34.35,0) scale(0.74,1)" x="-4.37">P</text><text transform="translate(41.98,0) scale(0.54,1)" x="-5.78">H</text><text transform="translate(49.62,0) scale(0.57,1)" x="-5.79">O</text><text transform="translate(57.25,0) scale(0.57,1)" x="-5.57">R</text><text transform="translate(72.52,0) scale(0.61,1)" x="-5.19">B</text><text transform="translate(80.15,0) scale(0.57,1)" x="-5.57">R</text><text transform="translate(87.78,0) scale(0.57,1)" x="-5.79">O</text><text transform="translate(95.42,0) scale(0.54,1)" x="-5.84">N</text><text transform="translate(103.05,0) scale(0.71,1)" x="-4.84">Z</text><text transform="translate(110.68,0) scale(0.68,1)" x="-4.73">E</text></g>
<g transform="translate(1134.5,588)" font-family='"Liberation Serif", serif' font-size="16.03" fill="#2a2a2a"><text transform="translate(3.81,0) scale(0.85,1)" x="-4.5">S</text><text transform="translate(11.44,0) scale(0.72,1)" x="-4.07">n</text><path d="M16.01 -4.73H22.11" stroke="#2a2a2a" stroke-width="0.9"/><text transform="translate(26.69,0) scale(0.74,1)" x="-4.37">P</text><text transform="translate(34.31,0) scale(1.05,1)" x="-2.23">l</text><text transform="translate(41.94,0) scale(0.84,1)" x="-3.73">a</text><text transform="translate(49.56,0) scale(1.05,1)" x="-2.26">t</text><text transform="translate(57.19,0) scale(1.05,1)" x="-2.24">i</text><text transform="translate(64.81,0) scale(0.72,1)" x="-4.07">n</text><text transform="translate(72.44,0) scale(0.76,1)" x="-4.2">g</text></g>
<g transform="translate(693.5,607.5)" font-family='"Liberation Serif", serif' font-size="16.03" fill="#2a2a2a"><text transform="translate(2.75,0) scale(0.86,1)" x="-3.92">2</text></g>
<g transform="translate(737.5,607.5)" font-family='"Liberation Serif", serif' font-size="16.03" fill="#2a2a2a"><text transform="translate(3.79,0) scale(0.89,1)" x="-4.23">1</text><text transform="translate(11.38,0) scale(0.78,1)" x="-4.01">#</text><text transform="translate(18.97,0) scale(0.63,1)" x="-5.23">C</text><text transform="translate(26.56,0) scale(0.56,1)" x="-5.79">O</text><text transform="translate(34.15,0) scale(0.54,1)" x="-5.84">N</text><text transform="translate(41.74,0) scale(0.62,1)" x="-4.91">T</text><text transform="translate(49.33,0) scale(0.51,1)" x="-5.81">A</text><text transform="translate(56.92,0) scale(0.63,1)" x="-5.23">C</text><text transform="translate(64.51,0) scale(0.62,1)" x="-4.91">T</text><text transform="translate(79.69,0) scale(0.73,1)" x="-4.4">F</text><text transform="translate(87.28,0) scale(0.56,1)" x="-5.79">O</text><text transform="translate(94.87,0) scale(0.56,1)" x="-5.79">O</text><text transform="translate(102.46,0) scale(0.62,1)" x="-4.91">T</text></g>
<g transform="translate(901,607.5)" font-family='"Liberation Serif", serif' font-size="16.03" fill="#2a2a2a"><text transform="translate(2.75,0) scale(0.64,1)" x="-4.23">1</text></g>
<g transform="translate(937.5,607.5)" font-family='"Liberation Serif", serif' font-size="16.03" fill="#2a2a2a"><text transform="translate(3.82,0) scale(0.74,1)" x="-4.37">P</text><text transform="translate(11.45,0) scale(0.54,1)" x="-5.78">H</text><text transform="translate(19.08,0) scale(0.57,1)" x="-5.79">O</text><text transform="translate(26.72,0) scale(0.85,1)" x="-4.5">S</text><text transform="translate(34.35,0) scale(0.74,1)" x="-4.37">P</text><text transform="translate(41.98,0) scale(0.54,1)" x="-5.78">H</text><text transform="translate(49.62,0) scale(0.57,1)" x="-5.79">O</text><text transform="translate(57.25,0) scale(0.57,1)" x="-5.57">R</text><text transform="translate(72.52,0) scale(0.61,1)" x="-5.19">B</text><text transform="translate(80.15,0) scale(0.57,1)" x="-5.57">R</text><text transform="translate(87.78,0) scale(0.57,1)" x="-5.79">O</text><text transform="translate(95.42,0) scale(0.54,1)" x="-5.84">N</text><text transform="translate(103.05,0) scale(0.71,1)" x="-4.84">Z</text><text transform="translate(110.68,0) scale(0.68,1)" x="-4.73">E</text></g>
<g transform="translate(1134.5,607.5)" font-family='"Liberation Serif", serif' font-size="16.03" fill="#2a2a2a"><text transform="translate(3.81,0) scale(0.85,1)" x="-4.5">S</text><text transform="translate(11.44,0) scale(0.72,1)" x="-4.07">n</text><path d="M16.01 -4.73H22.11" stroke="#2a2a2a" stroke-width="0.9"/><text transform="translate(26.69,0) scale(0.74,1)" x="-4.37">P</text><text transform="translate(34.31,0) scale(1.05,1)" x="-2.23">l</text><text transform="translate(41.94,0) scale(0.84,1)" x="-3.73">a</text><text transform="translate(49.56,0) scale(1.05,1)" x="-2.26">t</text><text transform="translate(57.19,0) scale(1.05,1)" x="-2.24">i</text><text transform="translate(64.81,0) scale(0.72,1)" x="-4.07">n</text><text transform="translate(72.44,0) scale(0.76,1)" x="-4.2">g</text></g>
<g transform="translate(693.5,627)" font-family='"Liberation Serif", serif' font-size="16.03" fill="#2a2a2a"><text transform="translate(2.75,0) scale(0.64,1)" x="-4.23">1</text></g>
<g transform="translate(737.5,627)" font-family='"Liberation Serif", serif' font-size="16.03" fill="#2a2a2a"><text transform="translate(3.79,0) scale(0.54,1)" x="-5.78">H</text><text transform="translate(11.36,0) scale(0.56,1)" x="-5.79">O</text><text transform="translate(18.93,0) scale(0.53,1)" x="-5.79">U</text><text transform="translate(26.5,0) scale(0.84,1)" x="-4.5">S</text><text transform="translate(34.07,0) scale(0.9,1)" x="-2.68">I</text><text transform="translate(41.64,0) scale(0.54,1)" x="-5.84">N</text><text transform="translate(49.21,0) scale(0.55,1)" x="-5.87">G</text></g>
<g transform="translate(901,627)" font-family='"Liberation Serif", serif' font-size="16.03" fill="#2a2a2a"><text transform="translate(2.75,0) scale(0.64,1)" x="-4.23">1</text></g>
<g transform="translate(937.5,627)" font-family='"Liberation Serif", serif' font-size="16.03" fill="#2a2a2a"><text transform="translate(3.75,0) scale(0.5,1)" x="-5.81">A</text><text transform="translate(11.25,0) scale(0.6,1)" x="-5.19">B</text><text transform="translate(18.75,0) scale(0.83,1)" x="-4.5">S</text></g>
<g transform="translate(687.5,647)" font-family='"Liberation Serif", serif' font-size="16.41" fill="#2a2a2a"><text transform="translate(3,0) scale(0.41,1)" x="-5.97">N</text><text transform="translate(9,0) scale(0.43,1)" x="-5.93">O</text><text transform="translate(13.8,0) scale(1,1)" x="-2.05">.</text></g>
<g transform="translate(738,647)" font-family='"Liberation Serif", serif' font-size="16.41" fill="#2a2a2a"><text transform="translate(3.82,0) scale(0.54,1)" x="-5.83">D</text><text transform="translate(11.45,0) scale(0.66,1)" x="-4.84">E</text><text transform="translate(19.09,0) scale(0.83,1)" x="-4.6">S</text><text transform="translate(26.73,0) scale(0.62,1)" x="-5.36">C</text><text transform="translate(34.36,0) scale(0.56,1)" x="-5.7">R</text><text transform="translate(42,0) scale(0.89,1)" x="-2.74">I</text><text transform="translate(49.64,0) scale(0.73,1)" x="-4.47">P</text><text transform="translate(57.27,0) scale(0.61,1)" x="-5.02">T</text><text transform="translate(64.91,0) scale(0.89,1)" x="-2.74">I</text><text transform="translate(72.55,0) scale(0.55,1)" x="-5.93">O</text><text transform="translate(80.18,0) scale(0.53,1)" x="-5.97">N</text></g>
<g transform="translate(893.75,647)" font-family='"Liberation Serif", serif' font-size="16.41" fill="#2a2a2a"><text transform="translate(3.54,0) scale(0.49,1)" x="-6.12">Q</text><text transform="translate(10.62,0) scale(0.57,1)" x="-5.02">T</text><text transform="translate(17.71,0) scale(0.48,1)" x="-5.81">Y</text></g>
<g transform="translate(937.5,647)" font-family='"Liberation Serif", serif' font-size="16.41" fill="#2a2a2a"><text transform="translate(3.75,0) scale(0.47,1)" x="-7.29">M</text><text transform="translate(11.25,0) scale(0.49,1)" x="-5.95">A</text><text transform="translate(18.75,0) scale(0.6,1)" x="-5.02">T</text><text transform="translate(26.25,0) scale(0.65,1)" x="-4.84">E</text><text transform="translate(33.75,0) scale(0.55,1)" x="-5.7">R</text><text transform="translate(41.25,0) scale(0.87,1)" x="-2.74">I</text><text transform="translate(48.75,0) scale(0.49,1)" x="-5.95">A</text><text transform="translate(56.25,0) scale(0.67,1)" x="-4.76">L</text></g>
<g transform="translate(1132.5,647)" font-family='"Liberation Serif", serif' font-size="16.41" fill="#2a2a2a"><text transform="translate(3.75,0) scale(0.71,1)" x="-4.47">P</text><text transform="translate(11.25,0) scale(0.67,1)" x="-4.76">L</text><text transform="translate(18.75,0) scale(0.49,1)" x="-5.95">A</text><text transform="translate(26.25,0) scale(0.6,1)" x="-5.02">T</text><text transform="translate(33.75,0) scale(0.87,1)" x="-2.74">I</text><text transform="translate(41.25,0) scale(0.52,1)" x="-5.97">N</text><text transform="translate(48.75,0) scale(0.53,1)" x="-6.01">G</text></g>
<g transform="translate(670.5,666)" font-family='"Liberation Serif", serif' font-size="10.69" fill="#333"><text transform="translate(2.38,0) scale(0.5,1)" x="-3.86">U</text><text transform="translate(7.12,0) scale(0.5,1)" x="-3.89">N</text><text transform="translate(11.88,0) scale(0.85,1)" x="-1.78">I</text><text transform="translate(16.62,0) scale(0.59,1)" x="-3.27">T</text><text transform="translate(20.43,0) scale(1,1)" x="-1.47">:</text><text transform="translate(26.12,0) scale(0.46,1)" x="-4.75">M</text><text transform="translate(30.88,0) scale(0.46,1)" x="-4.75">M</text></g>
<g transform="translate(755,666)" font-family='"Liberation Serif", serif' font-size="10.69" fill="#333"><text transform="translate(2.1,0) scale(0.52,1)" x="-3.27">T</text><text transform="translate(6.3,0) scale(0.44,1)" x="-3.78">Y</text><text transform="translate(10.5,0) scale(0.61,1)" x="-2.91">P</text><text transform="translate(14.7,0) scale(0.56,1)" x="-3.15">E</text><text transform="translate(18.06,0) scale(1,1)" x="-1.47">:</text></g>
<g transform="translate(896,666)" font-family='"Liberation Serif", serif' font-size="10.69" fill="#333"><text transform="translate(2.26,0) scale(0.44,1)" x="-4.75">M</text><text transform="translate(6.79,0) scale(0.5,1)" x="-3.86">O</text><text transform="translate(11.32,0) scale(0.49,1)" x="-3.8">D</text><text transform="translate(15.85,0) scale(0.6,1)" x="-3.15">E</text><text transform="translate(20.38,0) scale(0.62,1)" x="-3.1">L</text><text transform="translate(29.43,0) scale(0.48,1)" x="-3.89">N</text><text transform="translate(33.96,0) scale(0.5,1)" x="-3.86">O</text><text transform="translate(37.58,0) scale(1,1)" x="-1.47">:</text></g>
<text x="770.12" y="693.8" font-family='"Liberation Serif", serif' font-size="14.58" fill="#111" font-weight="normal" textLength="95.87" lengthAdjust="spacingAndGlyphs">PHONE JACK</text>
<text x="939" y="693.5" font-family='"Liberation Serif", serif' font-size="15.11" fill="#111" font-weight="normal" textLength="59.31" lengthAdjust="spacingAndGlyphs">PJ-602A</text>
<g transform="translate(1052.5,666.8)" font-family='"Liberation Serif", serif' font-size="11.45" fill="#333"><text transform="translate(2.66,0) scale(0.72,1)" x="-3.12">P</text><text transform="translate(7.97,0) scale(0.5,1)" x="-4.15">A</text><text transform="translate(13.28,0) scale(0.72,1)" x="-3.12">P</text><text transform="translate(18.59,0) scale(0.66,1)" x="-3.38">E</text><text transform="translate(23.91,0) scale(0.55,1)" x="-3.98">R</text><text transform="translate(34.53,0) scale(0.53,1)" x="-4.17">N</text><text transform="translate(39.84,0) scale(0.55,1)" x="-4.13">O</text><text transform="translate(44.09,0) scale(1,1)" x="-1.58">:</text><text transform="translate(55.78,0) scale(0.5,1)" x="-4.15">A</text><text transform="translate(61.09,0) scale(0.66,1)" x="-2.88">4</text></g>
<g transform="translate(1162.75,667.5)" font-family='"Liberation Serif", serif' font-size="13.36" fill="#333"><text transform="translate(2.64,0) scale(0.62,1)" x="-3.64">P</text><text transform="translate(7.91,0) scale(0.43,1)" x="-4.84">A</text><text transform="translate(13.18,0) scale(0.46,1)" x="-4.89">G</text><text transform="translate(18.45,0) scale(0.56,1)" x="-3.94">E</text><text transform="translate(29,0) scale(0.74,1)" x="-3.53">1</text><text transform="translate(39.55,0) scale(0.47,1)" x="-4.82">O</text><text transform="translate(44.82,0) scale(0.61,1)" x="-3.67">F</text><text transform="translate(55.36,0) scale(0.74,1)" x="-3.53">1</text></g>
<g transform="translate(1046.25,687.4)" font-family='"Liberation Serif", serif' font-size="11.3" fill="#333"><text transform="translate(2.64,0) scale(0.62,1)" x="-3.46">T</text><text transform="translate(7.92,0) scale(0.55,1)" x="-4.08">O</text><text transform="translate(13.19,0) scale(0.68,1)" x="-3.27">L</text><text transform="translate(18.47,0) scale(0.67,1)" x="-3.33">E</text><text transform="translate(23.75,0) scale(0.56,1)" x="-3.92">R</text><text transform="translate(29.03,0) scale(0.5,1)" x="-4.09">A</text><text transform="translate(34.31,0) scale(0.53,1)" x="-4.11">N</text><text transform="translate(39.58,0) scale(0.62,1)" x="-3.69">C</text><text transform="translate(44.86,0) scale(0.67,1)" x="-3.33">E</text></g>
<g transform="translate(1106.5,687.5)" font-family='"Liberation Serif", serif' font-size="11.45" fill="#333"><text transform="translate(2.65,0) scale(0.5,1)" x="-4.15">A</text><text transform="translate(7.94,0) scale(0.52,1)" x="-4.17">N</text><text transform="translate(13.23,0) scale(0.54,1)" x="-4.19">G</text><text transform="translate(18.52,0) scale(0.67,1)" x="-3.32">L</text><text transform="translate(23.81,0) scale(0.66,1)" x="-3.38">E</text><text transform="translate(29.1,0) scale(0.82,1)" x="-3.21">S</text></g>
<g transform="translate(1159.5,687.5)" font-family='"Liberation Serif", serif' font-size="11.45" fill="#333"><text transform="translate(2.62,0) scale(0.82,1)" x="-3.21">S</text><text transform="translate(7.88,0) scale(0.61,1)" x="-3.74">C</text><text transform="translate(13.12,0) scale(0.49,1)" x="-4.15">A</text><text transform="translate(18.38,0) scale(0.67,1)" x="-3.32">L</text><text transform="translate(23.62,0) scale(0.65,1)" x="-3.38">E</text></g>
<g transform="translate(1215.75,687.5)" font-family='"Liberation Serif", serif' font-size="11.45" fill="#333"><text transform="translate(2.5,0) scale(0.47,1)" x="-4.13">V</text><text transform="translate(7.5,0) scale(0.62,1)" x="-3.38">E</text><text transform="translate(12.5,0) scale(0.52,1)" x="-3.98">R</text></g>
<g transform="translate(1055.8,707.6)" font-family='"Liberation Serif", serif' font-size="9.77" fill="#333"><path d="M1.04 -4H7.6M4.32 -5.9V-2.2M1.04 -0.4H7.6" stroke="#333" stroke-width="0.8" fill="none"/><text transform="translate(10.79,0) scale(0.69,1)" x="-2.44">0</text><text transform="translate(14.25,0) scale(1,1)" x="-1.22">.</text><text transform="translate(19.43,0) scale(0.83,1)" x="-2.58">1</text><text transform="translate(23.74,0) scale(0.72,1)" x="-2.54">5</text></g>
<g transform="translate(1111.7,707.6)" font-family='"Liberation Serif", serif' font-size="9.77" fill="#333"><path d="M1.01 -4H7.42M4.22 -5.9V-2.2M1.01 -0.4H7.42" stroke="#333" stroke-width="0.8" fill="none"/><text transform="translate(10.54,0) scale(0.81,1)" x="-2.58">1</text><text transform="translate(13.91,0) scale(1,1)" x="-1.22">.</text><text transform="translate(18.97,0) scale(0.71,1)" x="-2.54">5</text><text transform="translate(23.19,0) scale(1.05,1)" x="-1.95">°</text></g>
<g transform="translate(1221.5,708.75)" font-family='"Liberation Serif", serif' font-size="11.45" fill="#333"><text transform="translate(1.75,0) scale(0.57,1)" x="-3.02">1</text></g>
<circle cx="688.6" cy="689" r="8.6" fill="none" stroke="#000" stroke-width="1" />
<circle cx="688.8" cy="689" r="4.85" fill="none" stroke="#000" stroke-width="1" />
<line x1="677.3" y1="689" x2="699.6" y2="689" stroke="#222" stroke-width="1" />
<line x1="688.5" y1="678" x2="688.5" y2="699.7" stroke="#000" stroke-width="1" />
<polygon points="713.5,684.1 738.2,680.6 738.2,697.5 713.5,693.65" fill="none" stroke="#000" stroke-width="1" />
<line x1="710.4" y1="689" x2="741.7" y2="689" stroke="#333" stroke-width="1" />
<line x1="1254.5" y1="0" x2="1254.5" y2="2" stroke="#000" stroke-width="1" />
</svg></body></html>
